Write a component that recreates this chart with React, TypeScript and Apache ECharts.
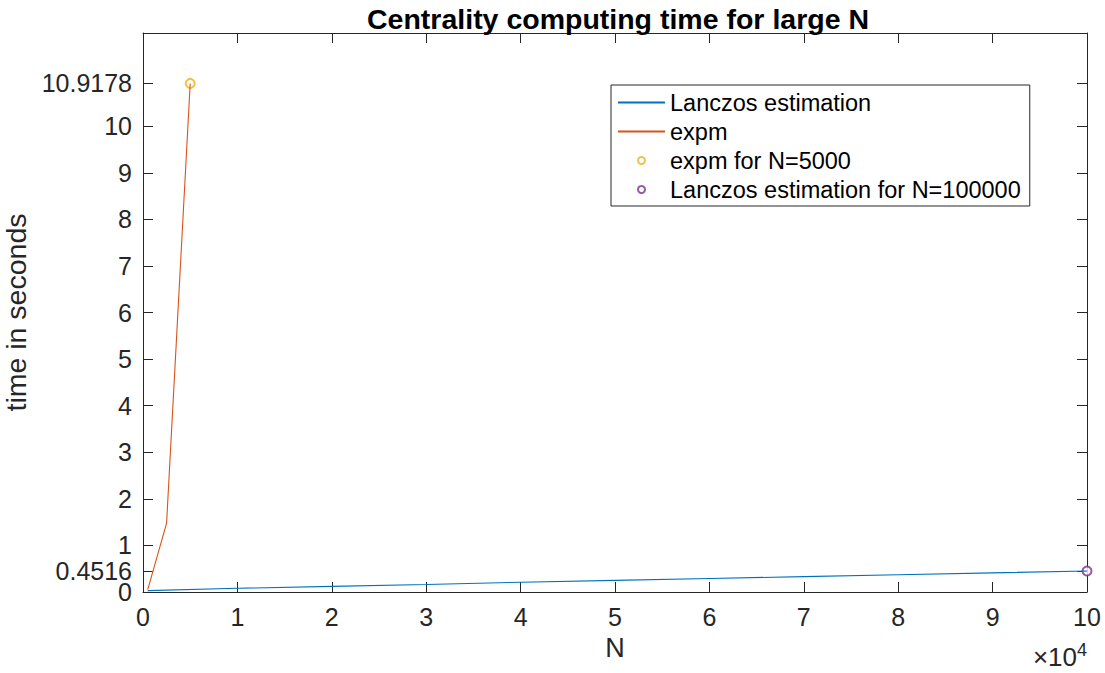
import React, { useEffect, useRef } from "react";
import * as echarts from "echarts";

const titleText = "Centrality computing time for large N";
const xName = "N";
const yName = "time in seconds";

const yTicks = [0, 0.4516, 1, 2, 3, 4, 5, 6, 7, 8, 9, 10, 10.9178];
const yLabelsMain = [0, 1, 2, 3, 4, 5, 6, 7, 8, 9, 10, 10.9178];
const yLabelsExtra = [0.4516];

const lanczosN = [500, 10000, 20000, 30000, 40000, 50000, 60000, 70000, 80000, 90000, 100000];
const lanczosTime = [0.03, 0.08, 0.12, 0.16, 0.21, 0.25, 0.29, 0.33, 0.37, 0.41, 0.4516];

const expmN = [500, 2500, 5000];
const expmTime = [0.05, 1.48, 10.9178];

const expmPointN = [5000];
const expmPointTime = [10.9178];
const lanczosPointN = [100000];
const lanczosPointTime = [0.4516];

const seriesNames = [
  "Lanczos estimation",
  "expm",
  "expm for N=5000",
  "Lanczos estimation for N=100000",
];

const FONT = "'Liberation Sans', Arial, Helvetica, sans-serif";
const AX = "#262626";
const BLUE = "#0072BD";
const ORANGE = "#D95319";
const YELLOW = "#EDB120";
const PURPLE = "#7E2F8E";

export default function App() {
  const ref = useRef<HTMLDivElement>(null);
  useEffect(() => {
    if (!ref.current) return;
    const chart = echarts.init(ref.current, undefined, { renderer: "svg" });
    const zip = (xs: number[], ys: number[]) => xs.map((x, i) => [x, ys[i]]);
    const axisCommonX = {
      type: "value" as const,
      min: 0,
      max: 100000,
      interval: 10000,
      splitLine: { show: false },
    };
    const axisCommonY = {
      type: "value" as const,
      min: 0,
      max: 12,
      splitLine: { show: false },
    };
    const yLabelStyle = {
      show: true,
      margin: 11,
      showMinLabel: true,
      showMaxLabel: true,
      hideOverlap: false,
      fontFamily: FONT,
      fontSize: 25,
      lineHeight: 19,
      color: AX,
      formatter: (v: number) => String(v),
    };
    chart.setOption({
      animation: false,
      backgroundColor: "#ffffff",
      color: [BLUE, ORANGE, YELLOW, PURPLE],
      textStyle: { fontFamily: FONT },
      title: {
        text: titleText,
        left: 613,
        textAlign: "center",
        top: -1,
        textStyle: { fontFamily: FONT, fontSize: 28.5, fontWeight: "bold", color: "#000" },
      },
      grid: { left: 143, right: 18, top: 33, bottom: 81, containLabel: false, outerBoundsMode: "none" },
      legend: {
        orient: "vertical",
        left: 611,
        top: 85,
        padding: [3, 9, 2, 6],
        itemGap: 0,
        itemWidth: 47,
        itemHeight: 7,
        symbolKeepAspect: true,
        backgroundColor: "#ffffff",
        borderColor: AX,
        borderWidth: 1,
        borderRadius: 0,
        selectedMode: false,
        textStyle: { fontFamily: FONT, fontSize: 23.5, color: "#000", lineHeight: 29 },
        data: [
          { name: seriesNames[0], itemStyle: { opacity: 0 } },
          { name: seriesNames[1], itemStyle: { opacity: 0 } },
          { name: seriesNames[2] },
          { name: seriesNames[3] },
        ],
      },
      xAxis: [
        {
          ...axisCommonX,
          position: "bottom",
          name: xName,
          nameLocation: "middle",
          nameGap: 42,
          nameTextStyle: { fontFamily: FONT, fontSize: 27, color: AX },
          axisLine: { show: true, onZero: false, lineStyle: { color: AX, width: 1 } },
          axisTick: { show: true, inside: true, length: 10, lineStyle: { color: AX } },
          axisLabel: {
            show: true,
            margin: 12,
            showMinLabel: true,
            showMaxLabel: true,
            fontFamily: FONT,
            fontSize: 25,
            color: AX,
            formatter: (v: number) => String(v / 10000),
          },
        },
        {
          ...axisCommonX,
          position: "top",
          axisLine: { show: true, onZero: false, lineStyle: { color: AX, width: 1 } },
          axisTick: { show: true, inside: true, length: 10, lineStyle: { color: AX } },
          axisLabel: { show: false },
        },
      ],
      yAxis: [
        {
          ...axisCommonY,
          position: "left",
          name: yName,
          nameLocation: "middle",
          nameGap: 104,
          nameRotate: 90,
          nameTextStyle: { fontFamily: FONT, fontSize: 28.5, color: AX },
          axisLine: { show: true, onZero: false, lineStyle: { color: AX, width: 1 } },
          axisTick: { show: true, inside: true, length: 10, customValues: yTicks, lineStyle: { color: AX } },
          axisLabel: { ...yLabelStyle, customValues: yLabelsMain },
        },
        {
          ...axisCommonY,
          position: "right",
          axisLine: { show: true, onZero: false, lineStyle: { color: AX, width: 1 } },
          axisTick: { show: true, inside: true, length: 10, customValues: yTicks, lineStyle: { color: AX } },
          axisLabel: { show: false },
        },
        {
          ...axisCommonY,
          position: "left",
          axisLine: { show: false, onZero: false },
          axisTick: { show: false },
          axisLabel: { ...yLabelStyle, customValues: yLabelsExtra },
        },
      ],
      graphic: [
        {
          type: "text",
          right: 18,
          top: 641,
          style: {
            text: "×10{s|4}",
            rich: { s: { fontSize: 18, verticalAlign: "top", padding: [0, 0, 13, 0], fontFamily: FONT, fill: AX } },
            fontFamily: FONT,
            fontSize: 26,
            fill: AX,
          },
        },
      ],
      series: [
        {
          name: seriesNames[0],
          type: "line",
          color: BLUE,
          data: zip(lanczosN, lanczosTime),
          symbol: "none",
          lineStyle: { color: BLUE, width: 1.1 },
          itemStyle: { color: BLUE },
        },
        {
          name: seriesNames[1],
          type: "line",
          color: ORANGE,
          data: zip(expmN, expmTime),
          symbol: "none",
          lineStyle: { color: ORANGE, width: 1.1 },
          itemStyle: { color: ORANGE },
        },
        {
          name: seriesNames[2],
          type: "scatter",
          color: YELLOW,
          data: zip(expmPointN, expmPointTime),
          symbol: "emptyCircle",
          symbolSize: 9,
          symbolKeepAspect: true,
          clip: false,
          itemStyle: { color: YELLOW, borderColor: YELLOW, borderWidth: 1.2 },
        },
        {
          name: seriesNames[3],
          type: "scatter",
          color: PURPLE,
          data: zip(lanczosPointN, lanczosPointTime),
          symbol: "emptyCircle",
          symbolSize: 9,
          symbolKeepAspect: true,
          clip: false,
          itemStyle: { color: PURPLE, borderColor: PURPLE, borderWidth: 1.2 },
        },
      ],
    });
    return () => chart.dispose();
  }, []);
  return (
    <div
      ref={ref}
      style={{ position: "absolute", left: 0, top: 0, width: 1105, height: 673, background: "#fff" }}
    />
  );
}
